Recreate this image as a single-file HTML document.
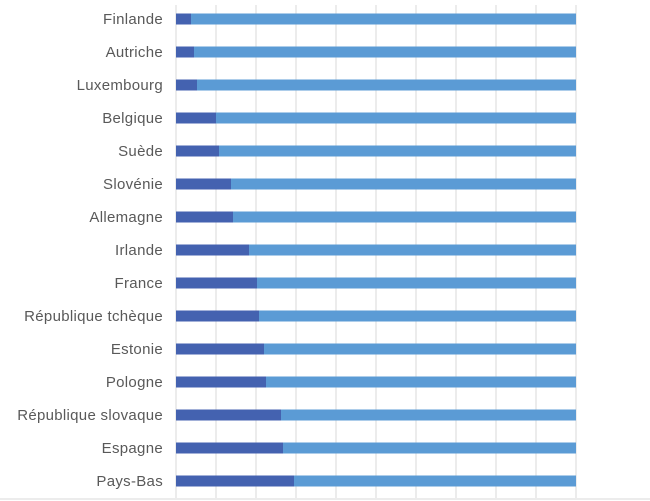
<!DOCTYPE html>
<html><head><meta charset="utf-8"><style>
html,body{margin:0;padding:0;background:#fff;width:650px;height:501px;overflow:hidden}
svg text{font-family:"Liberation Sans",sans-serif;font-size:15px;letter-spacing:0.3px;fill:#595959}
</style></head><body>
<svg id="chart" width="650" height="501" xmlns="http://www.w3.org/2000/svg"></svg>
<script>
const categories=["Finlande","Autriche","Luxembourg","Belgique","Suède","Slovénie","Allemagne","Irlande","France","République tchèque","Estonie","Pologne","République slovaque","Espagne","Pays-Bas"];
const darkValues=[3.75,4.5,5.25,10,10.75,13.75,14.25,18.25,20.25,20.75,22,22.5,26.25,26.75,29.5];
const totalValues=[100,100,100,100,100,100,100,100,100,100,100,100,100,100,100];
const gridTicks=[0,10,20,30,40,50,60,70,80,90,100];
const svg=document.getElementById('chart');
const NS='http://www.w3.org/2000/svg';
const x0=176,x1=576,yTop=5,yBot=498;
const xs=v=>x0+(x1-x0)*v/100;
const rowY=i=>19+i*33;
function mk(tag,attrs){const e=document.createElementNS(NS,tag);for(const k in attrs)e.setAttribute(k,attrs[k]);svg.appendChild(e);return e;}
gridTicks.forEach(t=>{
  const l=mk('line',{x1:xs(t),x2:xs(t),y1:yTop,y2:yBot,stroke:'#d9d9d9','stroke-width':1});
  
  
});
const base=mk('line',{x1:0,x2:650,y1:499,y2:499,stroke:'#d9d9d9','stroke-width':1});


categories.forEach((c,i)=>{
  const y=rowY(i);
  const lb=mk('text',{x:163,y:y+5,'text-anchor':'end'});
  lb.textContent=c;
  
  
  const r2=mk('rect',{x:xs(darkValues[i]),y:y-5.5,width:xs(totalValues[i])-xs(darkValues[i]),height:11,fill:'#5B9BD5'});
  
  
  const r1=mk('rect',{x:xs(0),y:y-5.5,width:xs(darkValues[i])-xs(0),height:11,fill:'#4462B0'});
  
  
});
</script>
</body></html>
